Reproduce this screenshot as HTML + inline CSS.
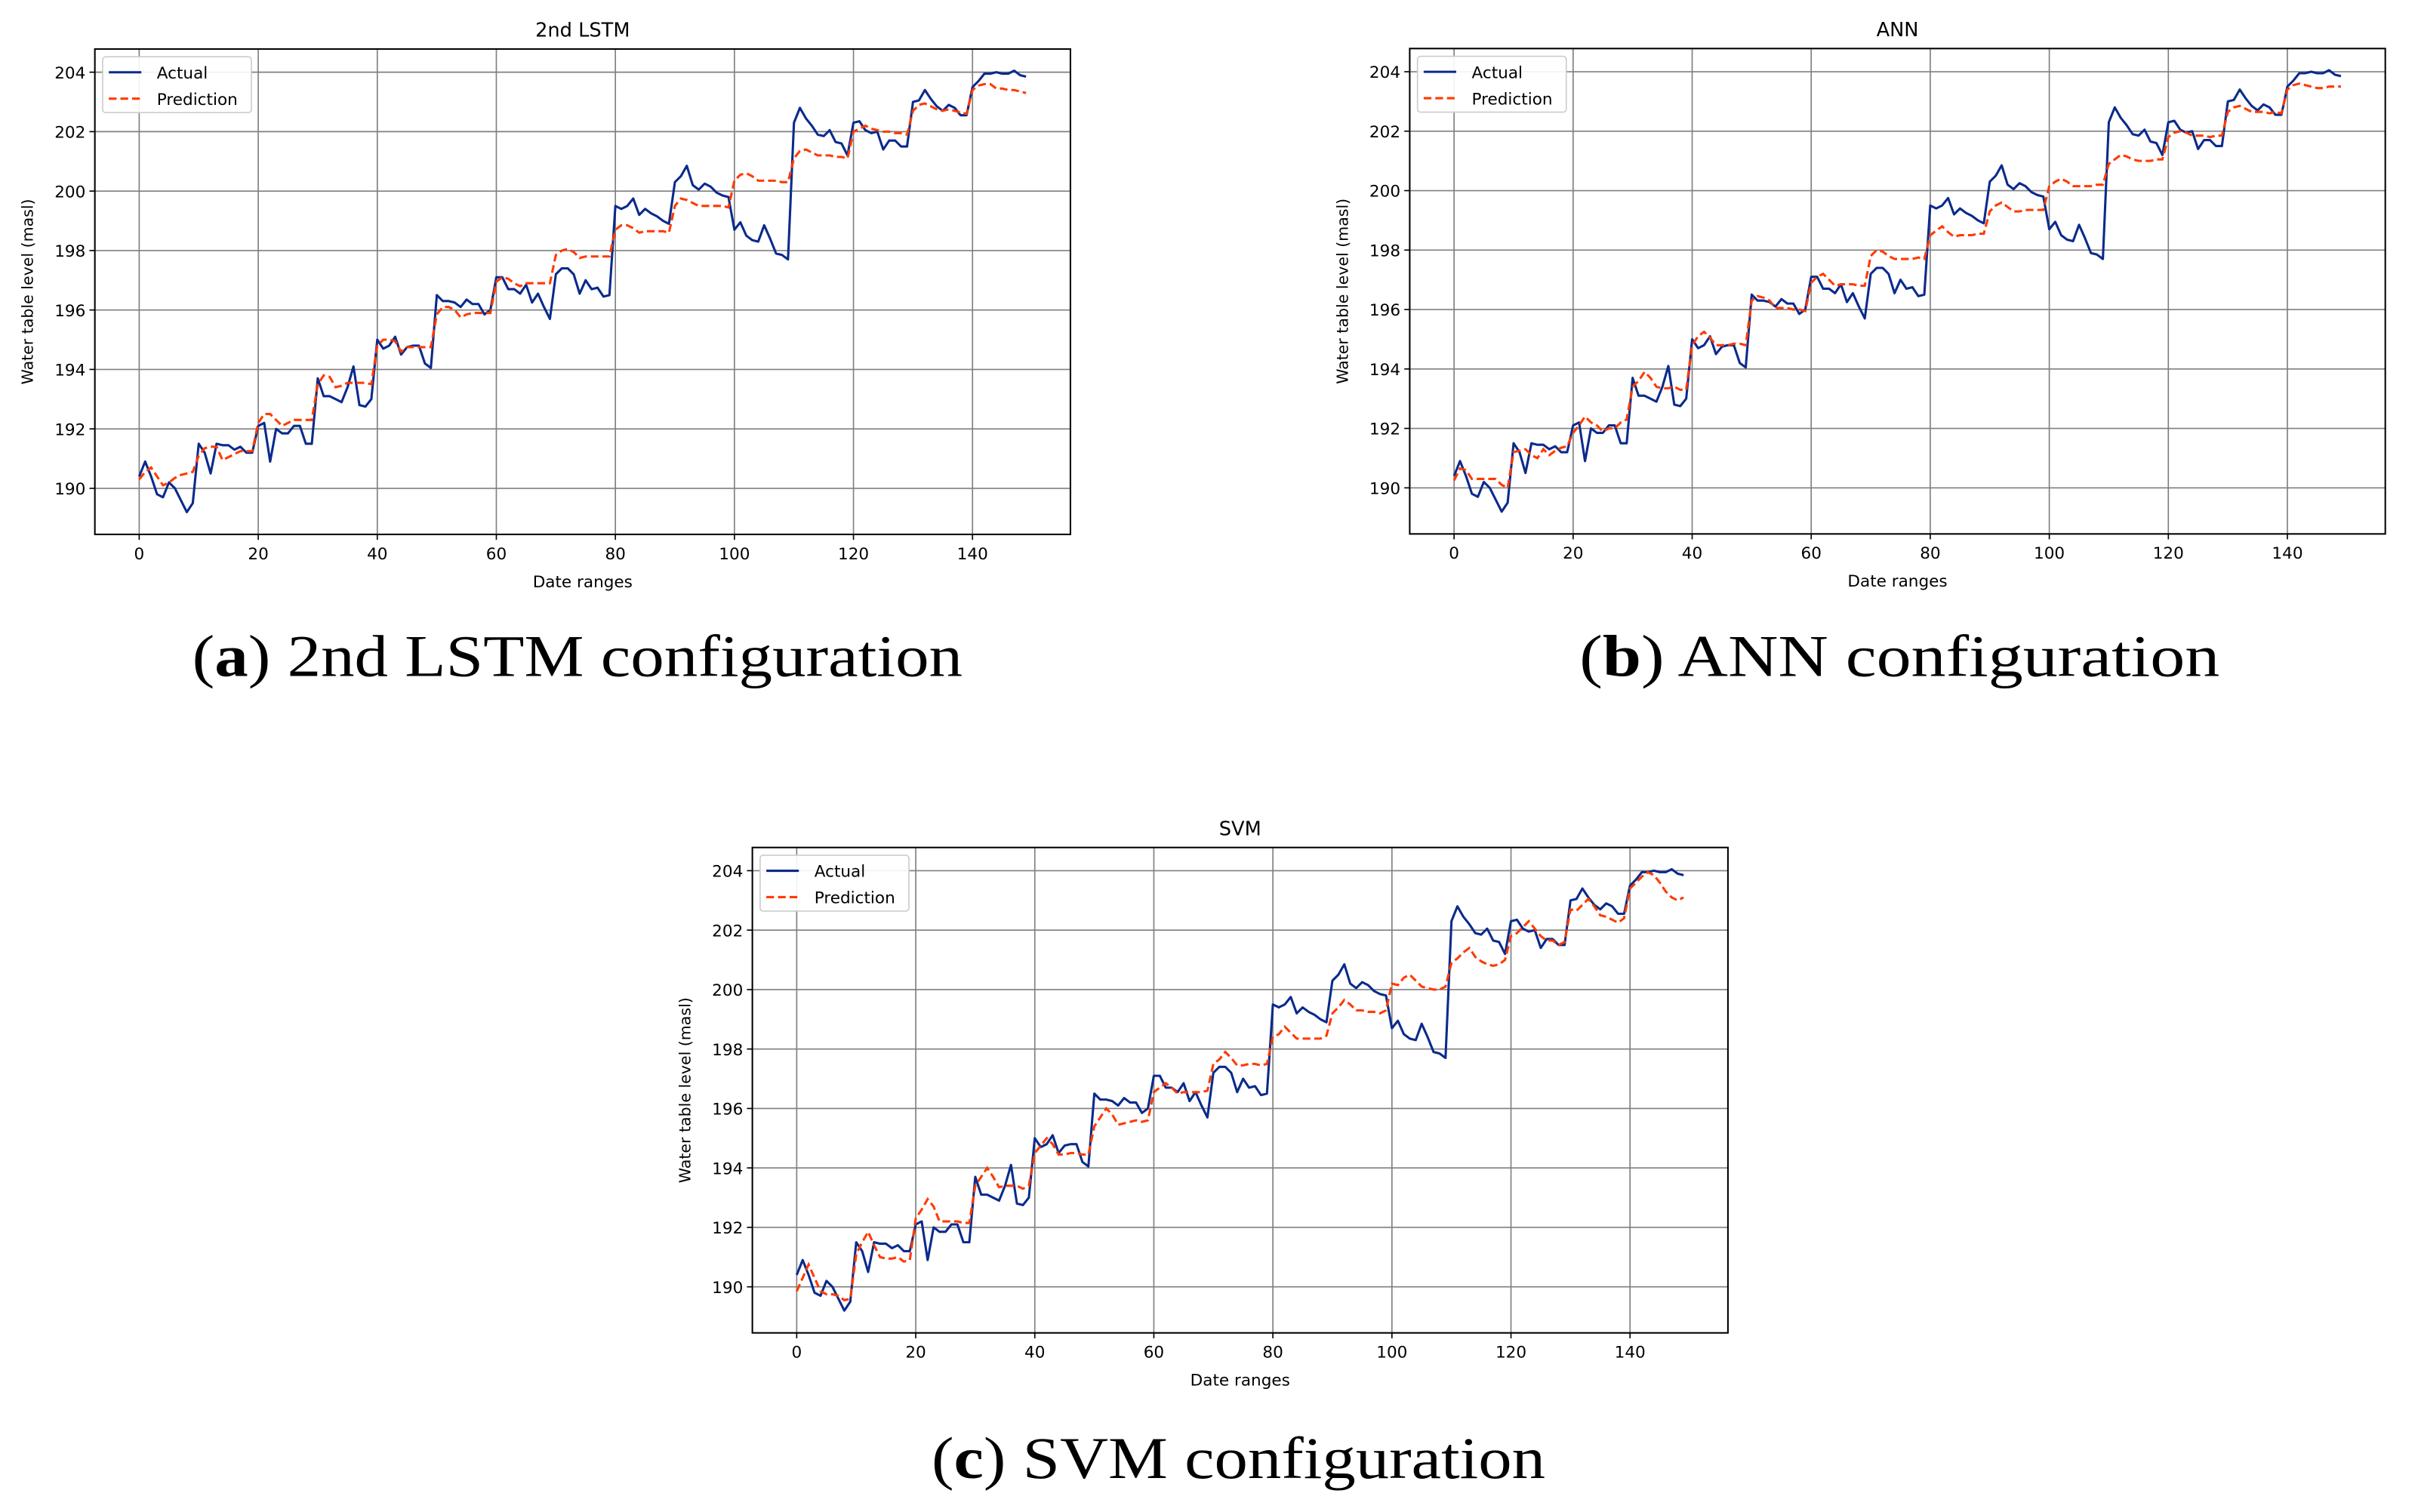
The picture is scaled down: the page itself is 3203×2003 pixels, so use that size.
<!DOCTYPE html>
<html><head><meta charset="utf-8"><style>
html,body{margin:0;padding:0;background:#fff;}
svg{display:block;}
text{font-family:"DejaVu Sans","Liberation Sans",sans-serif;}
.cap{font-family:"Liberation Serif",serif;font-size:38px;}
</style></head><body>
<svg id="fig" width="3203" height="2003" viewBox="0 0 1560 975" preserveAspectRatio="none" xmlns="http://www.w3.org/2000/svg">
<text class="cap" x="124" y="436" textLength="497" lengthAdjust="spacingAndGlyphs">(<tspan font-weight="bold">a</tspan>) 2nd LSTM configuration</text>
<text class="cap" x="1019" y="436" textLength="413" lengthAdjust="spacingAndGlyphs">(<tspan font-weight="bold">b</tspan>) ANN configuration</text>
<text class="cap" x="601" y="953" textLength="396" lengthAdjust="spacingAndGlyphs">(<tspan font-weight="bold">c</tspan>) SVM configuration</text>
</svg>
<script>
const xCount = 150;
const yTicks = [190,192,194,196,198,200,202,204];
const xTicks = [0,20,40,60,80,100,120,140];
const actual = [190.4,190.9,190.4,189.8,189.7,190.2,190.0,189.6,189.2,189.5,191.5,191.2,190.5,191.5,191.45,191.45,191.3,191.4,191.2,191.2,192.1,192.2,190.9,192.0,191.85,191.85,192.1,192.1,191.5,191.5,193.7,193.1,193.1,193.0,192.9,193.4,194.1,192.8,192.75,193.0,195.0,194.7,194.8,195.1,194.5,194.75,194.8,194.8,194.2,194.05,196.5,196.3,196.3,196.25,196.1,196.35,196.2,196.2,195.85,196.0,197.1,197.1,196.7,196.7,196.55,196.85,196.25,196.55,196.1,195.7,197.2,197.4,197.4,197.2,196.55,197.0,196.7,196.75,196.45,196.5,199.5,199.4,199.5,199.75,199.2,199.4,199.25,199.15,199.0,198.9,200.3,200.5,200.85,200.2,200.05,200.25,200.15,199.95,199.85,199.8,198.7,198.95,198.5,198.35,198.3,198.85,198.4,197.9,197.85,197.7,202.3,202.8,202.45,202.2,201.9,201.85,202.05,201.65,201.6,201.2,202.3,202.35,202.05,201.95,202.0,201.4,201.7,201.7,201.5,201.5,203.0,203.05,203.4,203.1,202.85,202.7,202.9,202.8,202.55,202.55,203.5,203.7,203.95,203.95,204.0,203.95,203.95,204.05,203.9,203.85];
const predLSTM = [190.3,190.55,190.7,190.4,190.1,190.2,190.35,190.45,190.5,190.55,191.1,191.35,191.4,191.4,190.95,191.05,191.15,191.25,191.25,191.25,192.2,192.5,192.5,192.3,192.1,192.2,192.3,192.3,192.3,192.3,193.5,193.8,193.75,193.4,193.45,193.55,193.55,193.55,193.55,193.5,194.8,195.0,195.0,194.95,194.6,194.75,194.75,194.75,194.75,194.75,195.85,196.1,196.1,196.0,195.75,195.85,195.9,195.9,195.9,195.9,196.95,197.1,197.05,196.9,196.8,196.9,196.9,196.9,196.9,196.9,197.85,198.0,198.05,197.95,197.75,197.8,197.8,197.8,197.8,197.8,198.7,198.85,198.85,198.75,198.6,198.65,198.65,198.65,198.65,198.6,199.5,199.75,199.7,199.6,199.5,199.5,199.5,199.5,199.5,199.45,200.35,200.55,200.6,200.5,200.35,200.35,200.35,200.35,200.3,200.3,201.1,201.35,201.4,201.3,201.2,201.2,201.2,201.15,201.15,201.1,202.0,202.1,202.2,202.1,202.05,202.0,202.0,201.95,201.95,201.9,202.7,202.9,202.95,202.85,202.75,202.7,202.75,202.7,202.65,202.6,203.4,203.55,203.6,203.6,203.45,203.45,203.4,203.4,203.35,203.3];
const predANN = [190.25,190.65,190.6,190.3,190.3,190.3,190.3,190.3,190.1,190.0,191.2,191.25,191.3,191.1,191.0,191.3,191.1,191.25,191.35,191.4,191.85,192.1,192.4,192.2,192.1,191.9,192.0,192.0,192.2,192.3,193.4,193.6,193.9,193.7,193.4,193.35,193.35,193.4,193.3,193.3,194.8,195.1,195.25,195.05,194.8,194.8,194.8,194.85,194.85,194.8,196.3,196.45,196.4,196.3,196.05,196.05,196.05,196.0,196.0,195.95,196.9,197.1,197.2,197.0,196.8,196.85,196.85,196.85,196.8,196.8,197.8,198.0,197.95,197.8,197.7,197.7,197.7,197.7,197.75,197.7,198.5,198.65,198.8,198.6,198.45,198.5,198.5,198.5,198.55,198.55,199.3,199.5,199.6,199.45,199.3,199.3,199.35,199.35,199.35,199.35,200.15,200.3,200.4,200.3,200.15,200.15,200.15,200.15,200.2,200.2,200.9,201.05,201.2,201.15,201.05,201.0,201.0,201.0,201.05,201.05,201.8,201.95,202.0,201.95,201.85,201.85,201.85,201.8,201.85,201.85,202.65,202.8,202.85,202.75,202.65,202.65,202.65,202.6,202.65,202.6,203.4,203.55,203.6,203.55,203.5,203.45,203.45,203.5,203.5,203.5];
const predSVM = [189.85,190.3,190.75,190.3,189.85,189.75,189.75,189.7,189.55,189.6,191.1,191.5,191.85,191.4,191.0,190.95,190.95,191.0,190.85,190.9,192.3,192.6,192.95,192.7,192.2,192.2,192.2,192.2,192.15,192.15,193.4,193.7,194.0,193.7,193.35,193.4,193.4,193.4,193.3,193.4,194.5,194.75,195.0,194.8,194.45,194.45,194.5,194.5,194.45,194.45,195.4,195.7,196.0,195.8,195.45,195.5,195.55,195.6,195.55,195.6,196.55,196.7,196.85,196.7,196.5,196.55,196.55,196.55,196.55,196.6,197.5,197.65,197.9,197.7,197.45,197.45,197.5,197.5,197.45,197.5,198.4,198.5,198.75,198.55,198.35,198.35,198.35,198.35,198.35,198.45,199.2,199.4,199.65,199.5,199.3,199.3,199.25,199.25,199.2,199.3,200.2,200.15,200.4,200.5,200.3,200.1,200.05,200.0,200.0,200.1,200.9,201.05,201.25,201.4,201.1,200.95,200.85,200.8,200.85,201.0,201.8,201.9,202.1,202.3,202.05,201.8,201.65,201.65,201.5,201.6,202.7,202.65,202.85,203.05,202.8,202.5,202.45,202.35,202.25,202.4,203.4,203.6,203.8,203.95,203.85,203.6,203.3,203.1,203.0,203.1];

const NS = 'http://www.w3.org/2000/svg';
const svg = document.getElementById('fig');
function mk(tag, attrs, parent){const e=document.createElementNS(NS,tag);for(const k in attrs)e.setAttribute(k,attrs[k]);(parent||svg).appendChild(e);return e;}

function drawChart(id, title, L, T, pred){
  const W=629.4,H=313;
  const xmin=-7.45,xmax=156.45,ymin=188.45,ymax=204.78;
  const sx=v=>L+(v-xmin)/(xmax-xmin)*W;
  const sy=v=>T+H-(v-ymin)/(ymax-ymin)*H;
  const g=mk('g',{});
  
  
  xTicks.forEach(t=>{
    const l=mk('line',{x1:sx(t),x2:sx(t),y1:T,y2:T+H,stroke:'#7f7f7f','stroke-width':0.8},g);
    
    
    mk('line',{x1:sx(t),x2:sx(t),y1:T+H,y2:T+H+3.5,stroke:'#000','stroke-width':0.8},g);
    const tx=mk('text',{x:sx(t),y:T+H+16,'font-size':10.5,'text-anchor':'middle'},g);
    tx.textContent=t;
    
    
  });
  yTicks.forEach(t=>{
    const l=mk('line',{x1:L,x2:L+W,y1:sy(t),y2:sy(t),stroke:'#7f7f7f','stroke-width':0.8},g);
    
    
    mk('line',{x1:L-3.5,x2:L,y1:sy(t),y2:sy(t),stroke:'#000','stroke-width':0.8},g);
    const tx=mk('text',{x:L-6,y:sy(t)+4,'font-size':10.5,'text-anchor':'end'},g);
    tx.textContent=t;
    
    
  });
  const pa=actual.slice(0,xCount).map((v,i)=>sx(i).toFixed(2)+','+sy(v).toFixed(2)).join(' ');
  const a=mk('polyline',{points:pa,fill:'none',stroke:'#0a2a8c','stroke-width':1.5,'stroke-linejoin':'round'},g);
  
  
  const pp=pred.map((v,i)=>sx(i).toFixed(2)+','+sy(v).toFixed(2)).join(' ');
  const p=mk('polyline',{points:pp,fill:'none',stroke:'#ff3a00','stroke-width':1.5,'stroke-dasharray':'5,2.5'},g);
  
  
  const fr=mk('rect',{x:L,y:T,width:W,height:H,fill:'none',stroke:'#000','stroke-width':1},g);
  
  
  const tt=mk('text',{x:L+W/2,y:T-8,'font-size':12.5,'text-anchor':'middle'},g);
  tt.textContent=title;
  
  
  const xl=mk('text',{x:L+W/2,y:T+H+34,'font-size':10.5,'text-anchor':'middle'},g);
  xl.textContent='Date ranges';
  
  
  const yl=mk('text',{x:0,y:0,'font-size':10,'text-anchor':'middle',transform:`translate(${L-40},${T+H/2}) rotate(-90)`},g);
  yl.textContent='Water table level (masl)';
  
  
  const lg=mk('g',{},g);
  
  
  mk('rect',{x:L+5,y:T+5,width:96,height:36,rx:2,fill:'#fff','fill-opacity':0.9,stroke:'#ccc','stroke-width':0.8},lg);
  mk('line',{x1:L+9,x2:L+30,y1:T+15,y2:T+15,stroke:'#0a2a8c','stroke-width':1.5},lg);
  mk('line',{x1:L+9,x2:L+30,y1:T+32,y2:T+32,stroke:'#ff3a00','stroke-width':1.5,'stroke-dasharray':'5,2.5'},lg);
  const t1=mk('text',{x:L+40,y:T+19,'font-size':10.5},lg); t1.textContent='Actual';
  
  
  const t2=mk('text',{x:L+40,y:T+36,'font-size':10.5},lg); t2.textContent='Prediction';
  
  
}
drawChart('lstm','2nd LSTM',61.2,31.6,predLSTM);
drawChart('ann','ANN',909.5,31.3,predANN);
drawChart('svm','SVM',485.4,546.5,predSVM);
</script>
</body></html>
